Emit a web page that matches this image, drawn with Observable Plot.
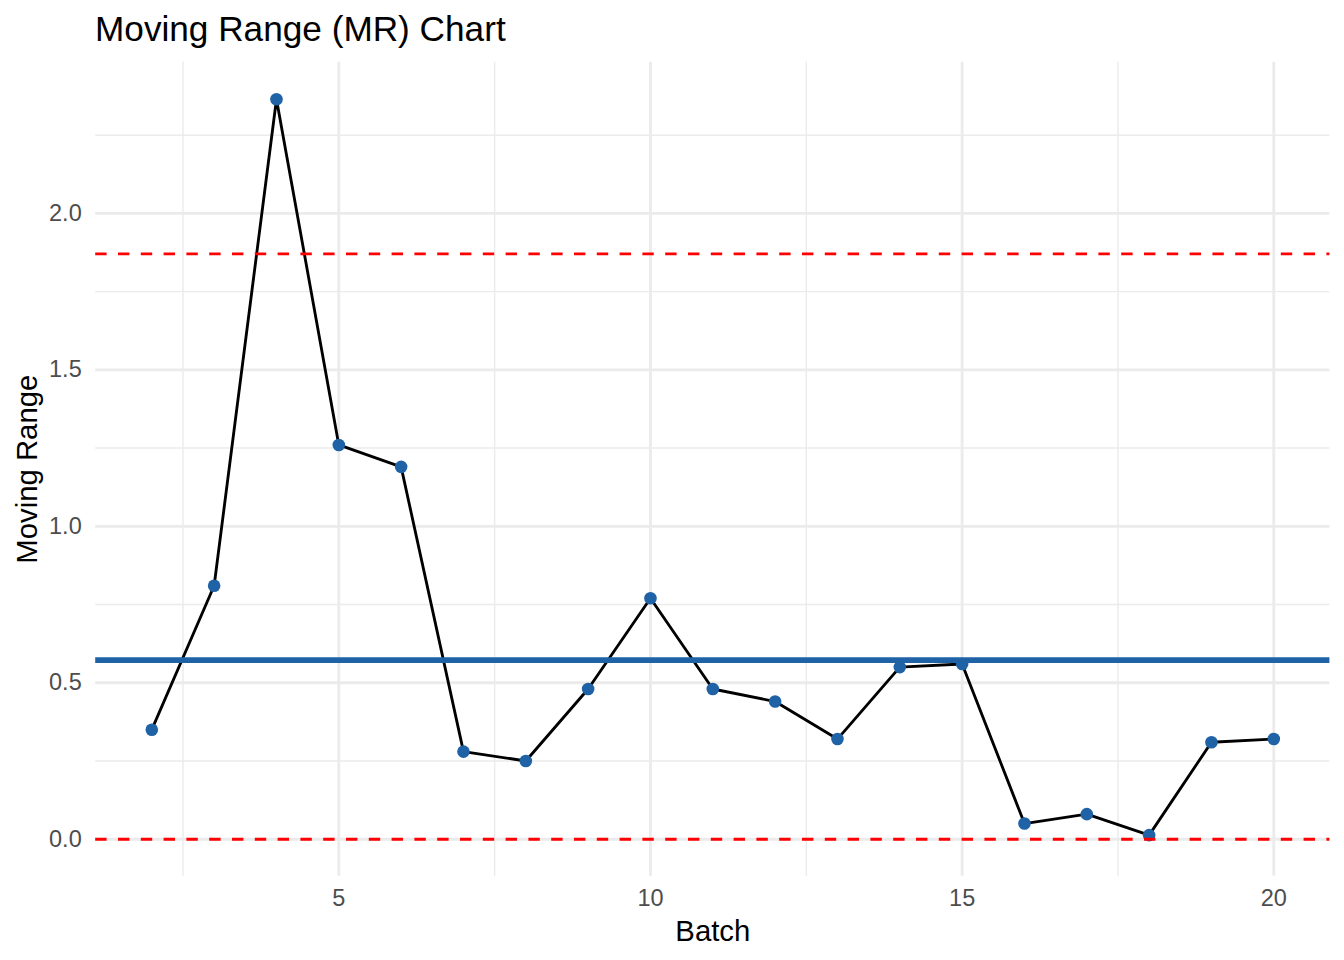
<!DOCTYPE html>
<html>
<head>
<meta charset="utf-8">
<script src="https://cdn.jsdelivr.net/npm/d3@7"></script>
<script src="https://cdn.jsdelivr.net/npm/@observablehq/plot@0.6"></script>
<style>
  html, body { margin: 0; padding: 0; background: #fff; }
  body { width: 1344px; height: 960px; overflow: hidden; font-family: "Liberation Sans", Arial, Helvetica, sans-serif; }
  #title { box-sizing: border-box; height: 54px; padding-top: 3.5px; padding-left: 95px; font-size: 35.2px; line-height: 50px; color: #000; white-space: nowrap; }
  #chart svg { display: block; }
</style>
</head>
<body>
<div id="title">Moving Range (MR) Chart</div>
<div id="chart"></div>
<script>
// ---- data ----
const batches = [2, 3, 4, 5, 6, 7, 8, 9, 10, 11, 12, 13, 14, 15, 16, 17, 18, 19, 20];
const movingRange = [0.35, 0.81, 2.365, 1.26, 1.19, 0.28, 0.25, 0.48, 0.77, 0.48, 0.44, 0.32, 0.55, 0.56, 0.05, 0.08, 0.013, 0.31, 0.32];
const xTicks = [5, 10, 15, 20];
const xMinorTicks = [2.5, 7.5, 12.5, 17.5];
const yTicks = [0, 0.5, 1.0, 1.5, 2.0];
const yMinorTicks = [0.25, 0.75, 1.25, 1.75, 2.25];
const D4 = 3.267;

// ---- derived ----
const data = batches.map((b, i) => ({batch: b, mr: movingRange[i]}));
const mrBar = d3.mean(movingRange);
const ucl = D4 * mrBar;
const lcl = 0;

const xMin = d3.min(batches), xMax = d3.max(batches);
const xPad = (xMax - xMin) * 0.05;
const yLo = Math.min(0, d3.min(movingRange)), yHi = Math.max(ucl, d3.max(movingRange));
const yPad = (yHi - yLo) * 0.05;

const W = 1344, H = 906;
const mL = 95.2, mR = 14.6, mT = 7.7, mB = 84.3;

const gridColor = "#EBEBEB";
const blue = "#1F63A6";
const lw = 2.85;

const chart = Plot.plot({
  width: W,
  height: H,
  marginLeft: mL,
  marginRight: mR,
  marginTop: mT,
  marginBottom: mB,
  style: {fontFamily: '"Liberation Sans", Arial, Helvetica, sans-serif', background: "#fff", overflow: "visible"},
  x: {domain: [xMin - xPad, xMax + xPad], axis: null},
  y: {domain: [yLo - yPad, yHi + yPad], axis: null},
  marks: [
    Plot.gridX(xMinorTicks, {stroke: gridColor, strokeOpacity: 1, strokeWidth: lw / 2}),
    Plot.gridY(yMinorTicks, {stroke: gridColor, strokeOpacity: 1, strokeWidth: lw / 2}),
    Plot.gridX(xTicks, {stroke: gridColor, strokeOpacity: 1, strokeWidth: lw}),
    Plot.gridY(yTicks, {stroke: gridColor, strokeOpacity: 1, strokeWidth: lw}),
    Plot.axisX(xTicks, {tickSize: 0, tickPadding: 13.3, fontSize: 23.5, fill: "#4D4D4D", label: null, tickFormat: d3.format("d")}),
    Plot.axisY(yTicks, {tickSize: 0, tickPadding: 14, fontSize: 23.5, fill: "#4D4D4D", label: null, tickFormat: d3.format(".1f")}),
    Plot.line(data, {x: "batch", y: "mr", stroke: "#000", strokeWidth: lw}),
    Plot.dot(data, {x: "batch", y: "mr", r: 6.3, fill: blue, stroke: "none"}),
    Plot.ruleY([mrBar], {stroke: blue, strokeWidth: 5.7}),
    Plot.ruleY([ucl, lcl], {stroke: "#FF0000", strokeWidth: lw, strokeDasharray: "11.4,11.4"}),
    Plot.text(["Batch"], {frameAnchor: "bottom", lineAnchor: "bottom", dy: 64.3, fontSize: 29.3, fill: "#000"}),
    Plot.text(["Moving Range"], {frameAnchor: "left", textAnchor: "middle", lineAnchor: "bottom", rotate: -90, dx: -58.7, fontSize: 29.3, fill: "#000"})
  ]
});
document.getElementById("chart").appendChild(chart);
</script>
</body>
</html>
